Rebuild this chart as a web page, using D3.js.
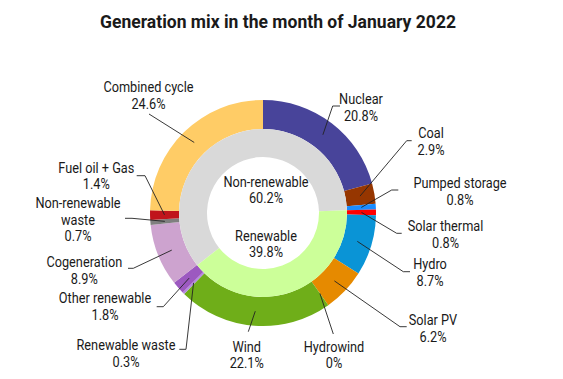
<!DOCTYPE html>
<html>
<head>
<meta charset="utf-8">
<script src="https://cdn.jsdelivr.net/npm/d3@7/dist/d3.min.js"></script>
<style>
  html, body { margin: 0; padding: 0; background: #fff; }
  svg { display: block; }
  text { font-family: Roboto, "Noto Sans", sans-serif; fill: #1a1a1a; }
</style>
</head>
<body>
<svg id="chart" width="563" height="379"></svg>
<script>
// ---- Data ----
const title = "Generation mix in the month of January 2022";
const categories = ["Nuclear", "Coal", "Pumped storage", "Solar thermal", "Hydro", "Solar PV", "Hydrowind",
  "Wind", "Renewable waste", "Other renewable", "Cogeneration", "Non-renewable waste", "Fuel oil + Gas", "Combined cycle"];
const values = [20.8, 2.9, 0.8, 0.8, 8.7, 6.2, 0, 22.1, 0.3, 1.8, 8.9, 0.7, 1.4, 24.6];
const renewableFlags = [false, false, false, true, true, true, true, true, true, true, false, false, false, false];
const groupNames = ["Non-renewable", "Renewable"];
const groupValues = [60.2, 39.8];

// ---- Styles ----
const colors = ["#48449a", "#963600", "#1a8cff", "#ff0000", "#0a94d6", "#e68a00", "#00b0f0",
  "#6fae19", "#b58ae0", "#9c59c0", "#cda3cf", "#7f7f7f", "#c0141c", "#ffcc66"];
const groupColors = ["#d9d9d9", "#ccff99"];

// label lines (text for each category label)
const labelLines = [
  ["Nuclear"], ["Coal"], ["Pumped storage"], ["Solar thermal"], ["Hydro"], ["Solar PV"], ["Hydrowind"],
  ["Wind"], ["Renewable waste"], ["Other renewable"], ["Cogeneration"], ["Non-renewable", "waste"], ["Fuel oil + Gas"], ["Combined cycle"]
];
// label layout: text centre x, first baseline y, leader elbow [x,y], horizontal end x (or null)
const labelLayout = [
  {tx: 361, ty: 104, ex: 332.7, ey: 106, hx: 340},
  {tx: 431, ty: 138.5, ex: 406.7, ey: 140.7, hx: 411.7},
  {tx: 460, ty: 188.5, ex: 391.7, ey: 190, hx: 398.3},
  {tx: 445.5, ty: 231, ex: 396.7, ey: 233.3, hx: 401.7},
  {tx: 430, ty: 269.5, ex: 403.3, ey: 271.7, hx: 410},
  {tx: 433, ty: 325, ex: 400, ey: 326.7, hx: 406.7},
  {tx: 334, ty: 351.7, ex: 333.3, ey: 334, hx: null},
  {tx: 246.7, ty: 351.7, ex: 248.3, ey: 331.7, hx: null},
  {tx: 126, ty: 350.5, ex: 186, ey: 349.3, hx: 179.3},
  {tx: 105, ty: 303.3, ex: 163.3, ey: 306.7, hx: 156.7},
  {tx: 84.3, ty: 267.3, ex: 133.3, ey: 268.3, hx: 128},
  {tx: 78, ty: 208.3, ex: 132, ey: 218.3, hx: 125},
  {tx: 96.3, ty: 172.7, ex: 145, ey: 175.7, hx: 136.7},
  {tx: 148.5, ty: 92, ex: 149, ey: 114, hx: null}
];

const W = 563, H = 379;
const cx = 263, cy = 213;
const rOuter = 113, rMid = 84, rInner = 56;
const lineH = 16.6;
const fontSize = 14;
const squeeze = 0.91; // narrow the font to match the condensed original

const svg = d3.select("#chart");

svg.append("text")
  .attr("x", 278).attr("y", 28)
  .attr("text-anchor", "middle")
  .attr("font-size", 18.5).attr("font-weight", 700)
  .attr("fill", "#111")
  .attr("textLength", 356).attr("lengthAdjust", "spacingAndGlyphs")
  .text(title);

function label(parent, x, y0, lines) {
  const t = parent.append("text")
    .attr("transform", `translate(${x},0) scale(${squeeze},1)`)
    .attr("text-anchor", "middle").attr("font-size", fontSize);
  lines.forEach((s, k) => {
    t.append("tspan").attr("x", 0).attr("y", y0 + k * lineH).text(s);
  });
}

const g = svg.append("g").attr("transform", `translate(${cx},${cy})`);

// Outer ring
const pie = d3.pie().sort(null).value(d => d);
const outerArcs = pie(values);
const arcOuter = d3.arc().innerRadius(rMid).outerRadius(rOuter);

g.selectAll("path.outer").data(outerArcs).enter().append("path")
  .attr("class", "outer")
  .attr("d", arcOuter)
  .attr("fill", (d, i) => colors[i]);

// Inner ring aligned with the renewable block of the outer ring
const firstRen = renewableFlags.indexOf(true);
const total = d3.sum(values);
const angle = d3.scaleLinear().domain([0, total]).range([0, 2 * Math.PI]);
const renStartA = angle(d3.sum(values.slice(0, firstRen)));
const renEndA = renStartA + angle(groupValues[1]);
const arcInner = d3.arc().innerRadius(rInner).outerRadius(rMid);
const innerArcs = [
  {startAngle: renEndA, endAngle: renStartA + 2 * Math.PI, idx: 0},
  {startAngle: renStartA, endAngle: renEndA, idx: 1}
];
g.selectAll("path.inner").data(innerArcs).enter().append("path")
  .attr("class", "inner")
  .attr("d", arcInner)
  .attr("fill", d => groupColors[d.idx]);

// Inner labels
const innerLabelY = [-26.3, 27.7];
groupNames.forEach((name, i) => {
  label(g, 3, innerLabelY[i], [name, groupValues[i].toFixed(1) + "%"]);
});

// Leader lines and labels
const fmt = v => (v === 0 ? "0" : v.toFixed(1)) + "%";
outerArcs.forEach((d, i) => {
  const L = labelLayout[i];
  const c = arcOuter.centroid(d);
  const p0 = [cx + c[0], cy + c[1]];
  const pts = [p0, [L.ex, L.ey]];
  if (L.hx !== null) pts.push([L.hx, L.ey]);
  svg.append("path")
    .attr("d", d3.line()(pts))
    .attr("fill", "none")
    .attr("stroke", "#222")
    .attr("stroke-width", 0.9);
  label(svg, L.tx, L.ty, labelLines[i].concat([fmt(values[i])]));
});
</script>
</body>
</html>
